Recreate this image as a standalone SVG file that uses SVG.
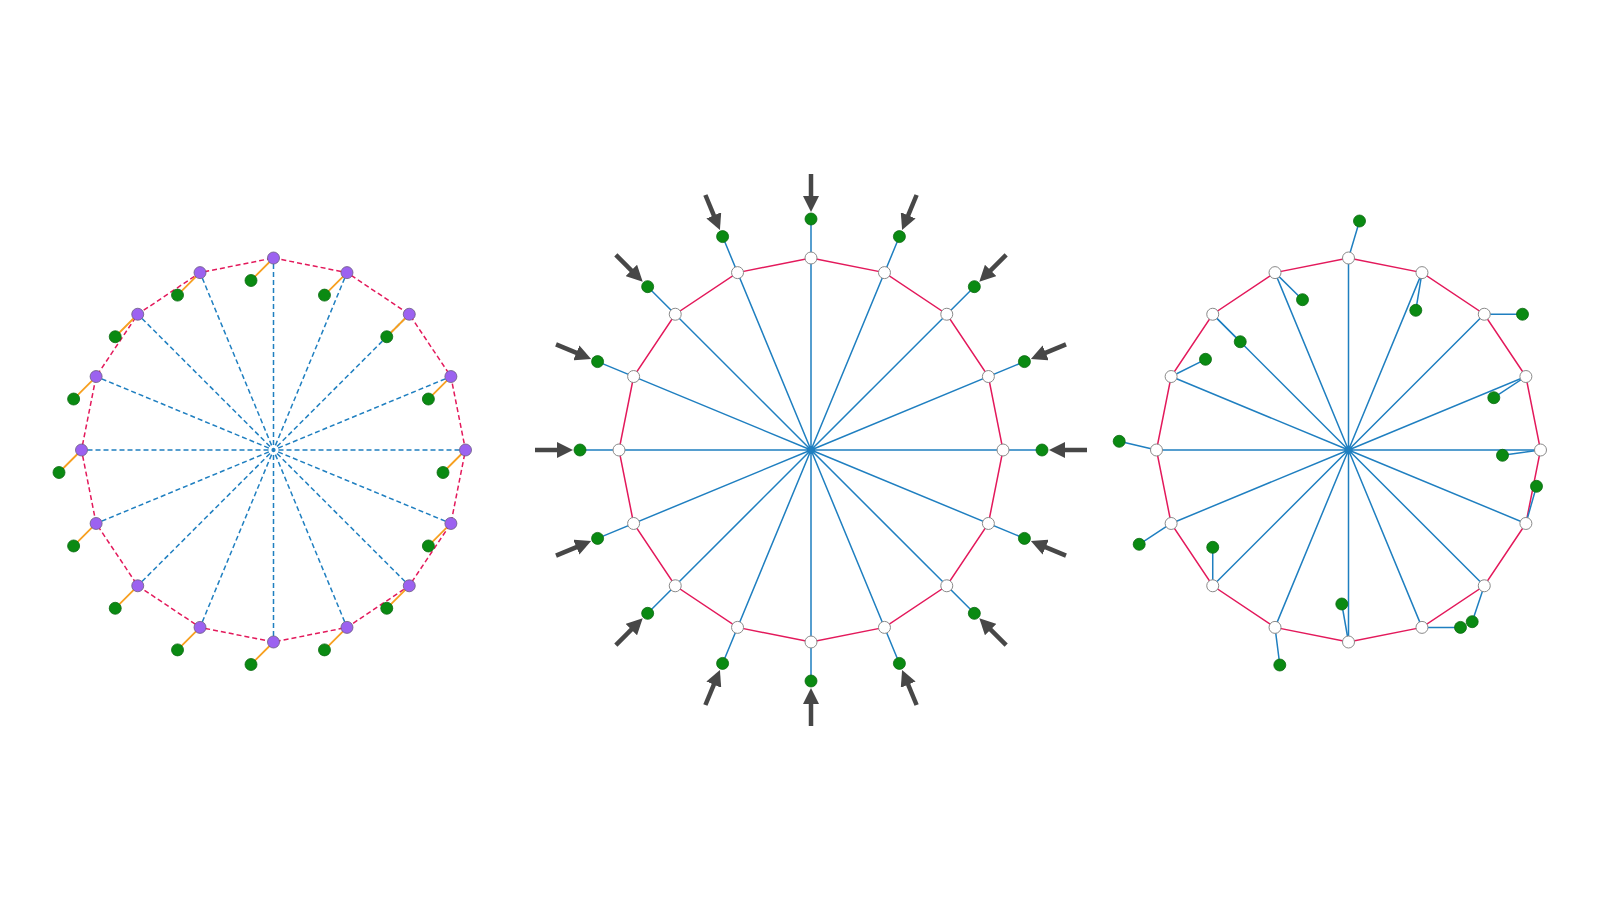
<svg xmlns="http://www.w3.org/2000/svg" width="1600" height="900" viewBox="0 0 1600 900">
<style>
.rim{stroke:#e3195b;stroke-width:1.5;fill:none}
.spoke{stroke:#1f7fc0;stroke-width:1.5;fill:none}
.dash{stroke-dasharray:5 3}
.dashc{stroke-dasharray:5 3;stroke-dashoffset:3}
.orange{stroke:#f7a020;stroke-width:1.8}
.link{stroke:#1f7fc0;stroke-width:1.5}
.arrow{stroke:#474747;stroke-width:4.5;marker-end:url(#ah)}
.g{fill:#0a8a12;stroke:#0a6a10;stroke-width:0.8}
.p{fill:#9c62f0;stroke:#6a5a80;stroke-width:0.8}
.w{fill:#ffffff;stroke:#8a8a8a;stroke-width:1}
</style>
<defs>
<marker id="ah" viewBox="0 0 16 16" refX="8" refY="8" markerWidth="16" markerHeight="16" markerUnits="userSpaceOnUse" orient="auto">
<path d="M0,0 L16,8 L0,16 z" fill="#474747"/>
</marker>
</defs>
<rect width="1600" height="900" fill="#ffffff"/>

<g id="connectors">
<!-- Left wheel -->
<polygon class="rim dash" points="273.5,258 346.98,272.62 409.27,314.24 450.89,376.53 465.5,450 450.89,523.47 409.27,585.77 346.98,627.39 273.5,642 200.03,627.39 137.74,585.77 96.12,523.47 81.5,450 96.12,376.53 137.74,314.24 200.03,272.62"/>
<path class="spoke dashc" d="M273.5,450L273.5,258M273.5,450L346.98,272.62M273.5,450L409.27,314.24M273.5,450L450.89,376.53M273.5,450L465.5,450M273.5,450L450.89,523.47M273.5,450L409.27,585.77M273.5,450L346.98,627.39M273.5,450L273.5,642M273.5,450L200.03,627.39M273.5,450L137.74,585.77M273.5,450L96.12,523.47M273.5,450L81.5,450M273.5,450L96.12,376.53M273.5,450L137.74,314.24M273.5,450L200.03,272.62"/>
<path class="orange" d="M273.5,258l-22.5,22.5M346.98,272.62l-22.5,22.5M409.27,314.24l-22.5,22.5M450.89,376.53l-22.5,22.5M465.5,450l-22.5,22.5M450.89,523.47l-22.5,22.5M409.27,585.77l-22.5,22.5M346.98,627.39l-22.5,22.5M273.5,642l-22.5,22.5M200.03,627.39l-22.5,22.5M137.74,585.77l-22.5,22.5M96.12,523.47l-22.5,22.5M81.5,450l-22.5,22.5M96.12,376.53l-22.5,22.5M137.74,314.24l-22.5,22.5M200.03,272.62l-22.5,22.5"/>

<!-- Middle wheel -->
<polygon class="rim" points="811,258 884.48,272.62 946.77,314.24 988.39,376.53 1003,450 988.39,523.47 946.77,585.77 884.48,627.39 811,642 737.52,627.39 675.24,585.77 633.62,523.47 619,450 633.62,376.53 675.24,314.24 737.52,272.62"/>
<path class="spoke" d="M811,450L811,219M811,450L899.40,236.58M811,450L974.34,286.66M811,450L1024.42,361.60M811,450L1042,450M811,450L1024.42,538.40M811,450L974.34,613.34M811,450L899.40,663.42M811,450L811,681M811,450L722.60,663.42M811,450L647.66,613.34M811,450L597.58,538.40M811,450L580,450M811,450L597.58,361.60M811,450L647.66,286.66M811,450L722.60,236.58"/>
<g>
<line class="arrow" x1="811" y1="174" x2="811" y2="204"/>
<line class="arrow" x1="916.62" y1="195.01" x2="905.14" y2="222.73"/>
<line class="arrow" x1="1006.16" y1="254.84" x2="984.95" y2="276.05"/>
<line class="arrow" x1="1065.99" y1="344.38" x2="1038.27" y2="355.86"/>
<line class="arrow" x1="1087" y1="450" x2="1057" y2="450"/>
<line class="arrow" x1="1065.99" y1="555.62" x2="1038.27" y2="544.14"/>
<line class="arrow" x1="1006.16" y1="645.16" x2="984.95" y2="623.95"/>
<line class="arrow" x1="916.62" y1="704.99" x2="905.14" y2="677.27"/>
<line class="arrow" x1="811" y1="726" x2="811" y2="696"/>
<line class="arrow" x1="705.38" y1="704.99" x2="716.86" y2="677.27"/>
<line class="arrow" x1="615.84" y1="645.16" x2="637.05" y2="623.95"/>
<line class="arrow" x1="556.01" y1="555.62" x2="583.73" y2="544.14"/>
<line class="arrow" x1="535" y1="450" x2="565" y2="450"/>
<line class="arrow" x1="556.01" y1="344.38" x2="583.73" y2="355.86"/>
<line class="arrow" x1="615.84" y1="254.84" x2="637.05" y2="276.05"/>
<line class="arrow" x1="705.38" y1="195.01" x2="716.86" y2="222.73"/>
</g>

<!-- Right wheel -->
<polygon class="rim" points="1348.5,258 1421.98,272.62 1484.27,314.24 1525.89,376.53 1540.5,450 1525.89,523.47 1484.27,585.77 1421.98,627.39 1348.5,642 1275.02,627.39 1212.74,585.77 1171.12,523.47 1156.5,450 1171.12,376.53 1212.74,314.24 1275.02,272.62"/>
<path class="spoke" d="M1348.5,450L1348.5,258M1348.5,450L1421.98,272.62M1348.5,450L1484.27,314.24M1348.5,450L1525.89,376.53M1348.5,450L1540.5,450M1348.5,450L1525.89,523.47M1348.5,450L1484.27,585.77M1348.5,450L1421.98,627.39M1348.5,450L1348.5,642M1348.5,450L1275.02,627.39M1348.5,450L1212.74,585.77M1348.5,450L1171.12,523.47M1348.5,450L1156.5,450M1348.5,450L1171.12,376.53M1348.5,450L1212.74,314.24M1348.5,450L1275.02,272.62"/>
<path class="link" d="M1348.5,258L1359.5,221M1275.02,272.62L1302.5,299.7M1421.98,272.62L1415.8,310.3M1484.27,314.24L1522.5,314.24M1212.74,314.24L1240.24,341.74M1171.12,376.53L1205.5,359.3M1525.89,376.53L1493.8,397.7M1156.5,450L1119.2,441.3M1540.5,450L1502.5,455.3M1525.89,523.47L1536.5,486.3M1171.12,523.47L1139.2,544.3M1212.74,585.77L1212.74,547.3M1348.5,642L1341.8,604M1484.27,585.77L1472.2,621.7M1421.98,627.39L1460.5,627.39M1275.02,627.39L1279.8,665"/>
</g>

<g id="left-wheel">
<g class="p">
<circle cx="273.5" cy="258" r="6"/><circle cx="346.98" cy="272.62" r="6"/><circle cx="409.27" cy="314.24" r="6"/><circle cx="450.89" cy="376.53" r="6"/><circle cx="465.5" cy="450" r="6"/><circle cx="450.89" cy="523.47" r="6"/><circle cx="409.27" cy="585.77" r="6"/><circle cx="346.98" cy="627.39" r="6"/><circle cx="273.5" cy="642" r="6"/><circle cx="200.03" cy="627.39" r="6"/><circle cx="137.74" cy="585.77" r="6"/><circle cx="96.12" cy="523.47" r="6"/><circle cx="81.5" cy="450" r="6"/><circle cx="96.12" cy="376.53" r="6"/><circle cx="137.74" cy="314.24" r="6"/><circle cx="200.03" cy="272.62" r="6"/>
</g>
<g class="g">
<circle cx="251" cy="280.5" r="6"/><circle cx="324.48" cy="295.12" r="6"/><circle cx="386.77" cy="336.74" r="6"/><circle cx="428.39" cy="399.03" r="6"/><circle cx="443" cy="472.5" r="6"/><circle cx="428.39" cy="545.97" r="6"/><circle cx="386.77" cy="608.27" r="6"/><circle cx="324.48" cy="649.89" r="6"/><circle cx="251" cy="664.5" r="6"/><circle cx="177.53" cy="649.89" r="6"/><circle cx="115.24" cy="608.27" r="6"/><circle cx="73.62" cy="545.97" r="6"/><circle cx="59" cy="472.5" r="6"/><circle cx="73.62" cy="399.03" r="6"/><circle cx="115.24" cy="336.74" r="6"/><circle cx="177.53" cy="295.12" r="6"/>
</g>
</g>

<g id="middle-wheel">
<g class="w">
<circle cx="811" cy="258" r="6"/><circle cx="884.48" cy="272.62" r="6"/><circle cx="946.77" cy="314.24" r="6"/><circle cx="988.39" cy="376.53" r="6"/><circle cx="1003" cy="450" r="6"/><circle cx="988.39" cy="523.47" r="6"/><circle cx="946.77" cy="585.77" r="6"/><circle cx="884.48" cy="627.39" r="6"/><circle cx="811" cy="642" r="6"/><circle cx="737.52" cy="627.39" r="6"/><circle cx="675.24" cy="585.77" r="6"/><circle cx="633.62" cy="523.47" r="6"/><circle cx="619" cy="450" r="6"/><circle cx="633.62" cy="376.53" r="6"/><circle cx="675.24" cy="314.24" r="6"/><circle cx="737.52" cy="272.62" r="6"/>
</g>
<g class="g">
<circle cx="811" cy="219" r="6"/><circle cx="899.40" cy="236.58" r="6"/><circle cx="974.34" cy="286.66" r="6"/><circle cx="1024.42" cy="361.60" r="6"/><circle cx="1042" cy="450" r="6"/><circle cx="1024.42" cy="538.40" r="6"/><circle cx="974.34" cy="613.34" r="6"/><circle cx="899.40" cy="663.42" r="6"/><circle cx="811" cy="681" r="6"/><circle cx="722.60" cy="663.42" r="6"/><circle cx="647.66" cy="613.34" r="6"/><circle cx="597.58" cy="538.40" r="6"/><circle cx="580" cy="450" r="6"/><circle cx="597.58" cy="361.60" r="6"/><circle cx="647.66" cy="286.66" r="6"/><circle cx="722.60" cy="236.58" r="6"/>
</g>
</g>

<g id="right-wheel">
<g class="w">
<circle cx="1348.5" cy="258" r="6"/><circle cx="1421.98" cy="272.62" r="6"/><circle cx="1484.27" cy="314.24" r="6"/><circle cx="1525.89" cy="376.53" r="6"/><circle cx="1540.5" cy="450" r="6"/><circle cx="1525.89" cy="523.47" r="6"/><circle cx="1484.27" cy="585.77" r="6"/><circle cx="1421.98" cy="627.39" r="6"/><circle cx="1348.5" cy="642" r="6"/><circle cx="1275.02" cy="627.39" r="6"/><circle cx="1212.74" cy="585.77" r="6"/><circle cx="1171.12" cy="523.47" r="6"/><circle cx="1156.5" cy="450" r="6"/><circle cx="1171.12" cy="376.53" r="6"/><circle cx="1212.74" cy="314.24" r="6"/><circle cx="1275.02" cy="272.62" r="6"/>
</g>
<g class="g">
<circle cx="1359.5" cy="221" r="6"/><circle cx="1302.5" cy="299.7" r="6"/><circle cx="1415.8" cy="310.3" r="6"/><circle cx="1522.5" cy="314.24" r="6"/><circle cx="1240.24" cy="341.74" r="6"/><circle cx="1205.5" cy="359.3" r="6"/><circle cx="1493.8" cy="397.7" r="6"/><circle cx="1119.2" cy="441.3" r="6"/><circle cx="1502.5" cy="455.3" r="6"/><circle cx="1536.5" cy="486.3" r="6"/><circle cx="1139.2" cy="544.3" r="6"/><circle cx="1212.74" cy="547.3" r="6"/><circle cx="1341.8" cy="604" r="6"/><circle cx="1472.2" cy="621.7" r="6"/><circle cx="1460.5" cy="627.39" r="6"/><circle cx="1279.8" cy="665" r="6"/>
</g>
</g>
</svg>
